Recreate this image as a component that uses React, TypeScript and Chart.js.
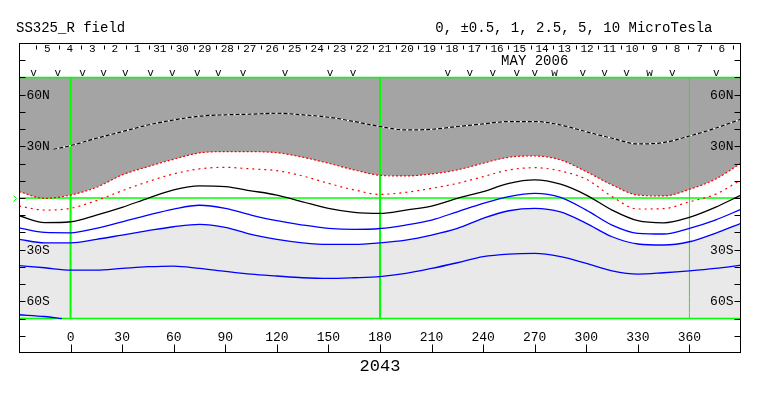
import React, { useEffect, useRef } from "react";
import { Chart, registerables } from "chart.js";

Chart.register(...registerables);

const FONT = '"Liberation Mono", "DejaVu Sans Mono", monospace';

// Carrington longitude samples (deg)
const LONS = [-30, -15, 0, 15, 30, 45, 60, 75, 90, 105, 120, 135, 150, 165, 180, 195, 210, 225, 240, 255, 270, 285, 300, 315, 330, 345, 360, 375, 390];

// contour latitudes (deg)
const POS_OUTER = [3.7, -0.2, 1.7, 6.2, 13.4, 18.2, 22.5, 26.2, 26.9, 26.9, 26.3, 23.7, 20.2, 16.3, 13.2, 12.8, 14, 16.3, 20.2, 23.7, 24.4, 22.1, 15.3, 7.6, 1.7, 1.2, 5, 10.9, 20.2];
const POS_INNER = [-4.7, -7, -6, -1.5, 4.2, 9.5, 14, 16.9, 17.8, 16.9, 15.9, 12.8, 8.5, 4.7, 2.1, 3.3, 5.6, 8.5, 12.4, 16.3, 17.6, 15.7, 10.9, 0.8, -6.4, -6.2, -2.2, 2.1, 10.5];
const NEUTRAL = [-10.3, -14.3, -13.8, -9.9, -5.4, -0.2, 4.7, 7, 6.6, 4.2, 1.7, -2.2, -6, -8.3, -8.9, -7, -4.7, -0.2, 3.7, 8.5, 10.5, 8, 1.7, -7, -13.2, -14.4, -11.2, -5.4, 1.7];
const NEG_1 = [-17.3, -20, -20.2, -17.6, -13.8, -9.9, -6.4, -4.2, -6, -9.9, -13.2, -15.7, -17.6, -18.2, -17.7, -15.7, -12.8, -8, -3.1, 0.8, 2.7, 0.4, -7, -15.7, -20.5, -20.9, -17.6, -12.8, -6.6];
const NEG_2 = [-24, -26, -26, -24, -21.5, -19, -16.7, -15.3, -17, -21.1, -24, -26, -26.9, -26.9, -26, -24.4, -21.5, -17.6, -11.8, -7.4, -6, -8.1, -14.7, -22.5, -26.7, -27.3, -25.4, -20.5, -14.7];
const NEG_3 = [-39.3, -40.5, -41.9, -41.9, -40.9, -39.9, -39.5, -40.9, -42.6, -44.2, -45.3, -46.3, -46.7, -46.3, -45.6, -43.8, -40.9, -37.6, -34.1, -32.6, -32.2, -34.1, -38, -42.3, -44.2, -43.4, -42.3, -40.9, -39];

const STRONG_LONS = [-10, 0, 15, 30, 45, 60, 75, 90, 105, 120, 135, 150, 165, 180, 195, 210, 225, 240, 255, 270, 285, 300, 315, 330, 345, 360, 375, 390];
const STRONG_POS = [28.3, 30.4, 34.7, 38.5, 42.4, 45.3, 47.5, 48.3, 48.7, 49.2, 48.3, 46.9, 44.4, 41.5, 39.5, 39.9, 41.5, 43, 44.4, 44.4, 42.4, 38.5, 34.7, 31.4, 32.2, 36, 40.5, 45.8];

const SOUTH_LONS = [-30, -15, -5];
const SOUTH_NEG = [-67.8, -68.8, -70];

// axes
const X_MIN = -30;
const X_MAX = 390;
const Y_MIN = -90;
const Y_MAX = 90;
const LAT_LIMIT = 70;
const X_TICKS = [0, 30, 60, 90, 120, 150, 180, 210, 240, 270, 300, 330, 360];
const LAT_TICKS = [-80, -70, -60, -50, -40, -30, -20, -10, 0, 10, 20, 30, 40, 50, 60, 70, 80];
const LAT_LABEL_VALUES = [60, 30, -30, -60];
const LAT_LABELS = ["60N", "30N", "30S", "60S"];
const GREEN_LONS = [0, 180, 360];
const GREEN_LON_WIDTHS = [2, 2, 1];
const GREEN_LATS = [70, 0, -70];

// date strip
const DAY_LABELS = ["5", "4", "3", "2", "1", "31", "30", "29", "28", "27", "26", "25", "24", "23", "22", "21", "20", "19", "18", "17", "16", "15", "14", "13", "12", "11", "10", "9", "8", "7", "6"];
const DAY_START_LON = -13.5;
const DAY_STEP = 13.08;
const MONTH_LABEL = "MAY 2006";
const MONTH_LON = 270;
const OBS_LONS = [-21.5, -7.5, 7, 19.2, 31.9, 46.5, 59.2, 73.7, 85.9, 100.4, 124.8, 151, 164.3, 219.5, 232.3, 245.6, 259.6, 270, 281.6, 297.9, 310.6, 323.4, 336.8, 350.1, 375.7];
const OBS_MARKS = ["v", "v", "v", "v", "v", "v", "v", "v", "v", "v", "v", "v", "v", "v", "v", "v", "v", "v", "w", "v", "v", "v", "w", "v", "v"];

const TITLE_LEFT = "SS325_R field";
const TITLE_RIGHT = "0, \u00b10.5, 1, 2.5, 5, 10 MicroTesla";
const ROTATION = "2043";

function pts(lons: number[], lats: number[]) {
  return lons.map((x, i) => ({ x, y: lats[i] }));
}

const framePlugin = {
  id: "frame",
  afterDraw(chart: any) {
    const { ctx, chartArea, scales } = chart;
    const { left, right, top, bottom } = chartArea;
    const xs = scales.x;
    const ys = scales.y;
    const L = Math.round(left) + 0.5;
    const R = Math.round(right) - 0.5;
    const T = Math.round(top) + 0.5;
    const B = Math.round(bottom) - 0.5;
    const seg = (x1: number, y1: number, x2: number, y2: number) => {
      ctx.beginPath();
      ctx.moveTo(x1, y1);
      ctx.lineTo(x2, y2);
      ctx.stroke();
    };
    ctx.save();
    ctx.strokeStyle = "#000";
    ctx.lineWidth = 1;
    ctx.strokeRect(L, T, R - L, B - T);

    // latitude ticks (inward, both sides)
    for (const lat of LAT_TICKS) {
      const py = Math.round(ys.getPixelForValue(lat)) + 0.5;
      seg(L, py, L + 6, py);
      seg(R - 6, py, R, py);
    }
    // longitude ticks (inward, bottom)
    for (const lon of X_TICKS) {
      const px = Math.round(xs.getPixelForValue(lon)) + 0.5;
      seg(px, B - 8, px, B);
    }
    // day boundary ticks (top)
    for (let i = 0; i <= DAY_LABELS.length; i++) {
      const lon = DAY_START_LON + (i - 0.5) * DAY_STEP;
      const px = Math.round(xs.getPixelForValue(lon)) + 0.5;
      if (px > L + 2 && px < R - 2) seg(px, T + 2, px, T + 6);
    }

    ctx.fillStyle = "#000";
    ctx.textBaseline = "middle";
    // lat labels
    ctx.font = "13px " + FONT;
    LAT_LABEL_VALUES.forEach((lat, i) => {
      const py = ys.getPixelForValue(lat);
      ctx.textAlign = "left";
      ctx.fillText(LAT_LABELS[i], L + 7, py + 0.5);
      ctx.textAlign = "right";
      ctx.fillText(LAT_LABELS[i], R - 7, py + 0.5);
    });
    // lon labels
    ctx.textAlign = "center";
    for (const lon of X_TICKS) {
      ctx.fillText(String(lon), xs.getPixelForValue(lon), B - 14.5);
    }
    // day labels
    ctx.font = "11px " + FONT;
    DAY_LABELS.forEach((d, i) => {
      const px = xs.getPixelForValue(DAY_START_LON + i * DAY_STEP);
      ctx.fillText(d, px, T + 5.5);
    });
    ctx.font = "14px " + FONT;
    ctx.fillText(MONTH_LABEL, xs.getPixelForValue(MONTH_LON), T + 18);
    ctx.font = "11px " + FONT;
    OBS_LONS.forEach((lon, i) => {
      ctx.fillText(OBS_MARKS[i], xs.getPixelForValue(lon), T + 29.5);
    });

    // titles
    ctx.font = "14px " + FONT;
    ctx.textAlign = "left";
    ctx.fillText(TITLE_LEFT, L - 3.5, T - 15.5);
    ctx.textAlign = "right";
    ctx.fillText(TITLE_RIGHT, R - 28, T - 15.5);
    ctx.textAlign = "center";
    ctx.font = "17px " + FONT;
    ctx.fillText(ROTATION, xs.getPixelForValue(180), B + 13.5);

    // equator marker
    const ey = Math.round(ys.getPixelForValue(0)) + 0.5;
    ctx.strokeStyle = "#00ff00";
    ctx.beginPath();
    ctx.moveTo(L - 6, ey - 3);
    ctx.lineTo(L - 3, ey);
    ctx.lineTo(L - 6, ey + 3);
    ctx.stroke();
    ctx.restore();
  },
};

export default function App() {
  const ref = useRef<HTMLCanvasElement>(null);

  useEffect(() => {
    document.body.style.margin = "0";
    const canvas = ref.current;
    if (!canvas) return;

    const line = (data: any[], color: string, width: number, dash: number[], order: number, extra: any = {}) => ({
      type: "line",
      data,
      borderColor: color,
      borderWidth: width,
      borderDash: dash,
      pointRadius: 0,
      fill: false,
      cubicInterpolationMode: "monotone",
      order,
      ...extra,
    });

    const datasets: any[] = [
      // fills
      line(pts(LONS, POS_OUTER), "rgba(0,0,0,0)", 0, [], 20, {
        fill: { value: LAT_LIMIT },
        backgroundColor: "#a4a4a4",
      }),
      line(pts(LONS, NEG_2), "rgba(0,0,0,0)", 0, [], 19, {
        fill: { value: -LAT_LIMIT },
        backgroundColor: "#e9e9e9",
      }),
      // green reference lines
      ...GREEN_LATS.map((lat) =>
        line([{ x: X_MIN, y: lat }, { x: X_MAX, y: lat }], "#00ff00", 1.5, [], 10)
      ),
      ...GREEN_LONS.map((lon, i) =>
        line([{ x: lon, y: -LAT_LIMIT }, { x: lon, y: LAT_LIMIT }], "#00ff00", GREEN_LON_WIDTHS[i], [], 10)
      ),
      // contours
      line(pts(STRONG_LONS, STRONG_POS), "#ffffff", 1.2, [], 6),
      line(pts(STRONG_LONS, STRONG_POS), "#000000", 1.2, [4, 2], 5),
      line(pts(LONS, POS_OUTER), "#ff0000", 1.2, [2, 2], 4),
      line(pts(LONS, POS_INNER), "#ff0000", 1.2, [2, 4], 4),
      line(pts(LONS, NEUTRAL), "#000000", 1.3, [], 3),
      line(pts(LONS, NEG_1), "#0000ff", 1.3, [], 3),
      line(pts(LONS, NEG_2), "#0000ff", 1.3, [], 3),
      line(pts(LONS, NEG_3), "#0000ff", 1.3, [], 3),
      line(pts(SOUTH_LONS, SOUTH_NEG), "#0000ff", 1.3, [], 3),
    ];

    const chart = new Chart(canvas, {
      type: "line",
      data: { datasets },
      options: {
        animation: false,
        responsive: true,
        maintainAspectRatio: false,
        devicePixelRatio: 1,
        layout: { padding: { left: 19, right: 22, top: 43, bottom: 43 } },
        plugins: {
          legend: { display: false },
          tooltip: { enabled: false },
          title: { display: false },
        },
        scales: {
          x: { type: "linear", min: X_MIN, max: X_MAX, display: false },
          y: { type: "linear", min: Y_MIN, max: Y_MAX, display: false },
        },
      } as any,
      plugins: [framePlugin],
    } as any);

    return () => chart.destroy();
  }, []);

  return (
    <div style={{ position: "fixed", left: 0, top: 0, width: 763, height: 396, background: "#fff" }}>
      <canvas ref={ref} />
    </div>
  );
}
